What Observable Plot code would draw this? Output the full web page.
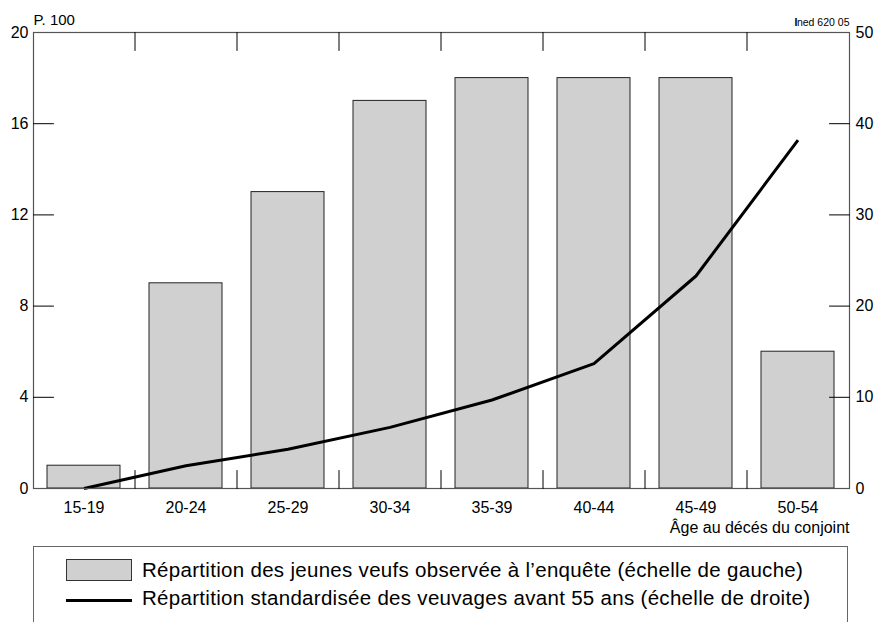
<!DOCTYPE html>
<html><head><meta charset="utf-8">
<script src="https://cdn.jsdelivr.net/npm/d3@7"></script>
<script src="https://cdn.jsdelivr.net/npm/@observablehq/plot@0.6"></script>
<style>
html,body{margin:0;padding:0;background:#fff;}
body{width:874px;height:622px;overflow:hidden;position:relative;font-family:"Liberation Sans",Arial,sans-serif;color:#000;}
#chart{position:absolute;left:0;top:0;}
#legend{position:absolute;left:33px;top:546px;width:815px;height:110px;border:1.5px solid #666;box-sizing:border-box;}
.sw{position:absolute;}
.lt{position:absolute;font-size:20.5px;line-height:22px;letter-spacing:0.3px;white-space:nowrap;}
</style>
</head><body>
<div id="chart"></div>
<div id="legend"></div>
<div class="sw" style="left:66px;top:559px;width:66px;height:22px;background:#d0d0d0;border:1px solid #333;box-sizing:border-box;"></div>
<div class="lt" style="left:142px;top:559px;">Répartition des jeunes veufs observée à l’enquête (échelle de gauche)</div>
<div class="sw" style="left:66px;top:599px;width:66px;height:3px;background:#000;"></div>
<div class="lt" style="left:142px;top:587px;">Répartition standardisée des veuvages avant 55 ans (échelle de droite)</div>
<script>
const categories = ["15-19","20-24","25-29","30-34","35-39","40-44","45-49","50-54"];
const observed = [1, 9, 13, 17, 18, 18, 18, 6];          // left scale (P. 100)
const standardized = [0, 2.5, 4.3, 6.7, 9.7, 13.7, 23.3, 38.2]; // right scale
const leftTicks = [0, 4, 8, 12, 16, 20];
const rightTicks = [0, 10, 20, 30, 40, 50];
const leftMax = 20, rightMax = 50;
const RATIO = leftMax / rightMax;

const bars = categories.map((c, i) => ({age: c, value: observed[i]}));
const pts = categories.map((c, i) => ({age: c, value: standardized[i] * RATIO}));

const W = 874, H = 540, mL = 33, mR = 25, mT = 32, mB = 52;
const n = categories.length;
const step = (W - mL - mR) / n;
const pInner = 0.284;
const tickShape = {draw(ctx, l) { ctx.moveTo(0, 0); ctx.lineTo(0, -l); }};

const chart = Plot.plot({
  width: W, height: H,
  marginLeft: mL, marginRight: mR, marginTop: mT, marginBottom: mB,
  style: {fontFamily: "'Liberation Sans', Arial, sans-serif", background: "#fff", color: "#000"},
  x: {domain: categories, type: "band", paddingInner: pInner, paddingOuter: pInner / 2, label: null},
  y: {domain: [0, leftMax], label: null},
  marks: [
    Plot.barY(bars, {x: "age", y: "value", fill: "#d0d0d0", stroke: "#222", strokeWidth: 1}),
    Plot.line(pts, {x: "age", y: "value", stroke: "#000", strokeWidth: 3, strokeLinejoin: "round", strokeLinecap: "butt"}),
    Plot.frame({stroke: "#555", strokeWidth: 1.2}),
    Plot.vector(leftTicks.filter(d => d > 0 && d < leftMax), {y: d => d, frameAnchor: "left", rotate: 90, length: 20, anchor: "start", shape: tickShape, stroke: "#000", strokeWidth: 1}),
    Plot.vector(rightTicks.filter(d => d > 0 && d < rightMax), {y: d => d * RATIO, frameAnchor: "right", rotate: -90, length: 20, anchor: "start", shape: tickShape, stroke: "#000", strokeWidth: 1}),
    Plot.vector(categories.slice(0, n - 1), {x: d => d, dx: step / 2, frameAnchor: "top", rotate: 180, length: 18, anchor: "start", shape: tickShape, stroke: "#000", strokeWidth: 1}),
    Plot.vector(categories.slice(0, n - 1), {x: d => d, dx: step / 2, frameAnchor: "bottom", rotate: 0, length: 18, anchor: "start", shape: tickShape, stroke: "#000", strokeWidth: 1}),
    Plot.axisY({anchor: "left", ticks: leftTicks, tickSize: 0, tickPadding: 5, fontSize: 16, label: null}),
    Plot.axisY({anchor: "right", ticks: rightTicks.map(d => d * RATIO), tickFormat: d => String(Math.round(d / RATIO)), tickSize: 0, tickPadding: 6, fontSize: 16, label: null}),
    Plot.axisX({anchor: "bottom", tickSize: 0, tickPadding: 13, fontSize: 16, label: null}),
    Plot.text(["Âge au décés du conjoint"], {text: d => d, frameAnchor: "bottom-right", textAnchor: "end", lineAnchor: "middle", dy: 39, fontSize: 16}),
    Plot.text(["P. 100"], {text: d => d, frameAnchor: "top-left", textAnchor: "start", lineAnchor: "middle", dy: -12, fontSize: 15}),
    Plot.text(["ned 620 05"], {text: d => d, frameAnchor: "top-right", textAnchor: "end", lineAnchor: "middle", dy: -10, fontSize: 10.5}),
    Plot.text(["I"], {text: d => d, frameAnchor: "top-right", textAnchor: "end", lineAnchor: "middle", dx: -52, dy: -10, fontSize: 10.5, fontWeight: "bold"})
  ]
});
document.getElementById("chart").appendChild(chart);
</script>
</body></html>
